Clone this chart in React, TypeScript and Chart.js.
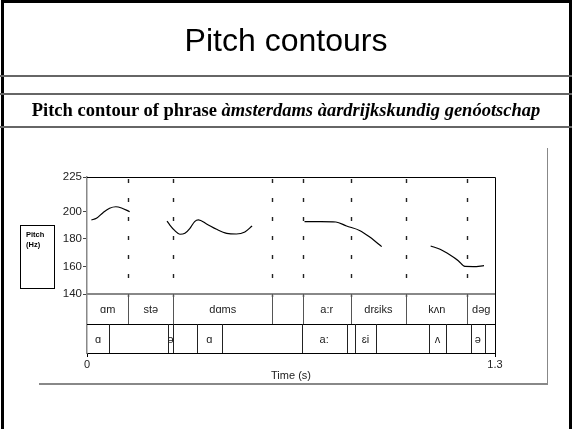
import React, { useEffect, useRef } from "react";
import { Chart, registerables } from "chart.js";
Chart.register(...registerables);

// ---- data ----
const yTickValues = [140, 160, 180, 200, 225];
const xTickValues = [0, 1.3];
const pitchMin = 140;
const pitchMax = 225;
const timeMax = 1.3;

const pitchTime = [
  0.014, 0.03, 0.051, 0.072, 0.092, 0.11, 0.136,
  0.2,
  0.255, 0.264, 0.28, 0.296, 0.312, 0.328, 0.343, 0.355, 0.381, 0.413, 0.445, 0.476, 0.503, 0.526,
  0.6,
  0.693, 0.745, 0.793, 0.827, 0.87, 0.902, 0.939,
  1.0,
  1.095, 1.125, 1.157, 1.183, 1.204, 1.231, 1.265,
];
const pitchHz: (number | null)[] = [
  193.8, 195.0, 199.1, 202.3, 203.4, 202.5, 199.8,
  null,
  193.0, 190.1, 186.0, 183.4, 184.1, 187.7, 192.6, 193.8, 190.9, 187.0, 184.1, 183.6, 185.1, 189.4,
  null,
  192.6, 192.6, 192.3, 189.4, 186.0, 181.2, 174.4,
  null,
  174.9, 172.5, 168.3, 164.2, 160.0, 159.9, 160.6,
];

const wordBounds = [0, 0.132, 0.275, 0.59, 0.688, 0.84, 1.017, 1.212, 1.3];
const words = ["ɑm", "stə", "dɑms", "", "a:r", "drɛiks", "kʌn", "dəg"];
const phoneBounds = [0, 0.07, 0.258, 0.274, 0.349, 0.43, 0.684, 0.827, 0.854, 0.921, 1.09, 1.143, 1.223, 1.268, 1.3];
const phones = ["ɑ", "", "ə", "", "ɑ", "", "a:", "", "ɛi", "", "ʌ", "", "ə", ""];

const titleText = "Pitch contours";
const subtitlePlain = "Pitch contour of phrase ";
const subtitleItalic = "àmsterdams àardrijkskundig genóotschap";
const xTitle = "Time (s)";

// ---- layout (pixels) ----
const PLOT_LEFT = 87;
const PLOT_RIGHT = 495;
const PLOT_TOP = 177;
const PITCH_BOTTOM = 294;
const PLOT_BOTTOM = 353;
const W = 572;
const H = 429;
const yMinScale = pitchMin - (pitchMax - pitchMin) * ((PLOT_BOTTOM - PITCH_BOTTOM) / (PITCH_BOTTOM - PLOT_TOP));

const SANS = "'Liberation Sans', Arial, sans-serif";
const SERIF = "'Liberation Serif', 'Times New Roman', serif";

const tierPlugin = {
  id: "tiers",
  afterDatasetsDraw(chart: any) {
    const { ctx, chartArea, scales } = chart;
    const xs = scales.x;
    const ys = scales.y;
    const top = chartArea.top;
    const bottom = chartArea.bottom;
    const left = chartArea.left;
    const right = chartArea.right;
    const y140 = Math.round(ys.getPixelForValue(pitchMin));
    const mid = Math.round((y140 + bottom) / 2);
    ctx.save();
    // dashed boundary lines through the pitch area
    ctx.strokeStyle = "#222";
    ctx.lineWidth = 1.4;
    ctx.setLineDash([4, 15]);
    for (let i = 1; i < wordBounds.length - 1; i++) {
      const px = Math.round(xs.getPixelForValue(wordBounds[i])) + 0.5;
      ctx.beginPath();
      ctx.moveTo(px, top + 2);
      ctx.lineTo(px, y140 + 4);
      ctx.stroke();
    }
    ctx.setLineDash([]);
    // frame top and right
    ctx.strokeStyle = "#000";
    ctx.lineWidth = 1;
    ctx.beginPath();
    ctx.moveTo(left, top + 0.5);
    ctx.lineTo(right + 0.5, top + 0.5);
    ctx.lineTo(right + 0.5, bottom);
    ctx.stroke();
    // tier separators
    ctx.strokeStyle = "#888";
    ctx.lineWidth = 2;
    ctx.beginPath();
    ctx.moveTo(left, y140);
    ctx.lineTo(right, y140);
    ctx.stroke();
    ctx.strokeStyle = "#000";
    ctx.lineWidth = 1;
    ctx.beginPath();
    ctx.moveTo(left, mid + 0.5);
    ctx.lineTo(right, mid + 0.5);
    ctx.stroke();
    // word boundaries
    ctx.strokeStyle = "#555";
    for (let i = 1; i < wordBounds.length - 1; i++) {
      const px = Math.round(xs.getPixelForValue(wordBounds[i])) + 0.5;
      ctx.beginPath();
      ctx.moveTo(px, y140);
      ctx.lineTo(px, mid);
      ctx.stroke();
    }
    // phone boundaries
    ctx.strokeStyle = "#222";
    for (let i = 1; i < phoneBounds.length - 1; i++) {
      const px = Math.round(xs.getPixelForValue(phoneBounds[i])) + 0.5;
      ctx.beginPath();
      ctx.moveTo(px, mid);
      ctx.lineTo(px, bottom);
      ctx.stroke();
    }
    // labels
    ctx.fillStyle = "#222";
    ctx.font = `11px ${SANS}`;
    ctx.textAlign = "center";
    ctx.textBaseline = "middle";
    for (let i = 0; i < words.length; i++) {
      if (!words[i]) continue;
      const cx = (xs.getPixelForValue(wordBounds[i]) + xs.getPixelForValue(wordBounds[i + 1])) / 2;
      ctx.fillText(words[i], cx, (y140 + mid) / 2 + 1);
    }
    for (let i = 0; i < phones.length; i++) {
      if (!phones[i]) continue;
      const cx = (xs.getPixelForValue(phoneBounds[i]) + xs.getPixelForValue(phoneBounds[i + 1])) / 2;
      ctx.fillText(phones[i], cx, (mid + bottom) / 2 + 1);
    }
    ctx.restore();
  },
};

function PitchChart() {
  const ref = useRef<HTMLCanvasElement | null>(null);
  useEffect(() => {
    if (!ref.current) return;
    const chart = new Chart(ref.current, {
      type: "line",
      data: {
        datasets: [
          {
            label: "Pitch",
            data: pitchTime.map((t, i) => ({ x: t, y: pitchHz[i] as any })),
            borderColor: "#000",
            borderWidth: 1.2,
            pointRadius: 0,
            spanGaps: false,
            cubicInterpolationMode: "monotone",
            fill: false,
          },
        ],
      },
      options: {
        animation: false,
        responsive: false,
        maintainAspectRatio: false,
        layout: {
          padding: { left: PLOT_LEFT - 50, right: W - PLOT_RIGHT, top: PLOT_TOP, bottom: H - PLOT_BOTTOM - 40 },
        },
        plugins: { legend: { display: false }, tooltip: { enabled: false }, title: { display: false } },
        scales: {
          x: {
            type: "linear",
            min: 0,
            max: timeMax,
            afterBuildTicks: (s: any) => {
              s.ticks = xTickValues.map((v) => ({ value: v }));
            },
            afterFit: (s: any) => {
              s.height = 40;
            },
            ticks: {
              autoSkip: false,
              maxRotation: 0,
              padding: 1,
              color: "#222",
              font: { family: SANS, size: 11 },
              callback: (v: any) => String(v),
            },
            grid: { drawOnChartArea: false, drawTicks: true, tickLength: 4, color: "#000" },
            border: { display: true, color: "#000", width: 1 },
            title: {
              display: true,
              text: xTitle,
              color: "#222",
              font: { family: SANS, size: 11 },
              padding: { top: 0, bottom: 10 },
            },
          },
          y: {
            type: "linear",
            min: yMinScale,
            max: pitchMax,
            afterBuildTicks: (s: any) => {
              s.ticks = yTickValues.map((v) => ({ value: v }));
            },
            afterFit: (s: any) => {
              s.width = 50;
            },
            ticks: {
              autoSkip: false,
              padding: 1,
              color: "#222",
              font: { family: SANS, size: 11.5 },
              callback: (v: any) => String(v),
            },
            grid: { drawOnChartArea: false, drawTicks: true, tickLength: 4, color: "#444" },
            border: { display: true, color: "#888", width: 1.5 },
          },
        },
      },
      plugins: [tierPlugin],
    } as any);
    return () => chart.destroy();
  }, []);
  return <canvas ref={ref} width={W} height={H} style={{ position: "absolute", left: 0, top: 0, width: W, height: H }} />;
}

export default function App() {
  const abs = (s: React.CSSProperties): React.CSSProperties => ({ position: "absolute", ...s });
  return (
    <div style={{ position: "fixed", left: 0, top: 0, width: W, height: H, background: "#fff", overflow: "hidden" }}>
      <PitchChart />
      <div style={abs({ left: 1, top: 0, width: 571, height: H + 20, borderLeft: "3px solid #000", borderTop: "3px solid #000", borderRight: "3px solid #000", boxSizing: "border-box" })} />
      <div style={abs({ left: 0, top: 24, width: W, textAlign: "center", fontFamily: SANS, fontSize: 32, lineHeight: "32px", color: "#000" })}>{titleText}</div>
      <div style={abs({ left: 0, top: 75, width: W, height: 2, background: "#666" })} />
      <div style={abs({ left: 0, top: 93, width: W, height: 2, background: "#666" })} />
      <div style={abs({ left: 0, top: 101, width: W, textAlign: "center", fontFamily: SERIF, fontWeight: "bold", fontSize: 18.5, lineHeight: "18.5px", color: "#000", whiteSpace: "nowrap" })}>
        {subtitlePlain}
        <i>{subtitleItalic}</i>
      </div>
      <div style={abs({ left: 0, top: 126, width: W, height: 2, background: "#666" })} />
      <div style={abs({ left: 39, top: 383, width: 509, height: 1.5, background: "#888" })} />
      <div style={abs({ left: 546.5, top: 148, width: 1.5, height: 236, background: "#888" })} />
      <div style={abs({ left: 20, top: 225, width: 35, height: 64, border: "1px solid #000", boxSizing: "border-box", fontFamily: SANS, fontWeight: "bold", fontSize: 7.5, color: "#000" })}>
        <div style={abs({ left: 5, top: 4, lineHeight: "9px" })}>Pitch</div>
        <div style={abs({ left: 5, top: 14, lineHeight: "9px" })}>(Hz)</div>
      </div>
    </div>
  );
}
